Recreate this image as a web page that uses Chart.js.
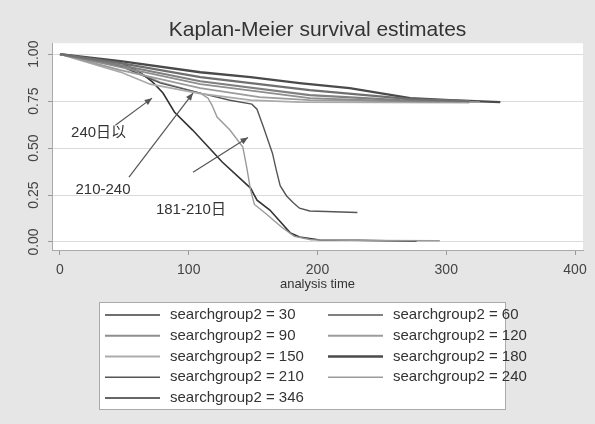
<!DOCTYPE html>
<html>
<head>
<meta charset="utf-8">
<script src="https://cdn.jsdelivr.net/npm/chart.js@4.4.1/dist/chart.umd.min.js"></script>
<style>
  html, body { margin: 0; padding: 0; background: #e6e6e6; }
  #km { display: block; }
</style>
</head>
<body>
<canvas id="km" width="595" height="424"></canvas>
<script>
// ---- values: [analysis time, survival] ----
const groupNames = ['30', '60', '90', '120', '150', '180', '210', '240', '346'];

const group30  = [[0, 1], [47, 0.952], [109, 0.878], [194, 0.809], [272, 0.761], [318, 0.750]];
const group60  = [[0, 1], [47, 0.941], [109, 0.856], [194, 0.782], [264, 0.755], [311, 0.750]];
const group90  = [[0, 1], [47, 0.931], [109, 0.840], [194, 0.766], [250, 0.752], [295, 0.748]];
const group120 = [[0, 1], [47, 0.915], [109, 0.819], [155, 0.771], [194, 0.755], [326, 0.745]];
const group150 = [[0, 1], [47, 0.905], [70, 0.840], [109, 0.790], [148, 0.755], [186, 0.745], [318, 0.742]];
const group180 = [[0, 1], [47, 0.963], [109, 0.904], [148, 0.878], [186, 0.846], [225, 0.819],
                  [272, 0.766], [303, 0.755], [342, 0.745]];
const group210 = [[0, 1], [47, 0.936], [78, 0.846], [109, 0.793], [132, 0.755], [149, 0.734],
                  [153, 0.707], [158, 0.612], [165, 0.473], [168, 0.383], [171, 0.300], [176, 0.245],
                  [181, 0.210], [186, 0.180], [194, 0.165], [231, 0.157]];
const group240 = [[0, 1], [47, 0.941], [78, 0.851], [109, 0.793], [115, 0.766], [118, 0.729],
                  [122, 0.665], [132, 0.596], [142, 0.505], [145, 0.399], [148, 0.277], [151, 0.200],
                  [160, 0.150], [172, 0.080], [182, 0.030], [195, 0.012], [240, 0.008], [295, 0.007]];
const group346 = [[0, 1], [47, 0.957], [62, 0.904], [72, 0.851], [80, 0.793], [89, 0.691],
                  [103, 0.596], [126, 0.426], [148, 0.287], [153, 0.223], [163, 0.170], [179, 0.048],
                  [186, 0.027], [202, 0.011], [231, 0.009], [277, 0.004]];

const xTicks = [0, 100, 200, 300, 400];
const yTicks = [0, 0.25, 0.5, 0.75, 1];

// arrows + labels on the plot (data coordinates)
const notes = [
  { text: '240日以', at: [30, 0.58], from: [43, 0.622], to: [71.5, 0.766] },
  { text: '210-240', at: [33.4, 0.277], from: [53.6, 0.346], to: [103.3, 0.793] },
  { text: '181-210日', at: [101.7, 0.17], from: [103.3, 0.372], to: [146, 0.556] }
];

const FONT = '"Liberation Sans", Arial, "Noto Sans CJK SC", sans-serif';

const series = [group30, group60, group90, group120, group150, group180, group210, group240, group346];
const lineColors = ['#6f6f6f', '#808080', '#8e8e8e', '#9c9c9c', '#ababab', '#4a4a4a', '#555555', '#9a9a9a', '#333333'];
const lineWidths = [2.2, 2.2, 1.8, 1.8, 1.8, 2.4, 1.4, 1.4, 1.6];

const datasets = series.map((pts, i) => ({
    label: 'searchgroup2 = ' + groupNames[i],
    data: pts.map(p => ({ x: p[0], y: p[1] })),
    borderColor: lineColors[i],
    borderWidth: lineWidths[i],
    pointRadius: 0,
    fill: false,
    tension: 0
}));

/* -----------------------------
    plot background (stata gray frame, white plot region)
------------------------------ */
const kmBackground = {
    id: 'kmBackground',
    beforeDraw(chart) {
        const { ctx, chartArea: a } = chart;
        ctx.save();
        ctx.fillStyle = '#e6e6e6';
        ctx.fillRect(0, 0, chart.width, chart.height);
        ctx.fillStyle = '#ffffff';
        ctx.fillRect(a.left, a.top, a.right - a.left, a.bottom - a.top);
        ctx.restore();
    }
};

/* -----------------------------
    arrows with labels
------------------------------ */
const kmArrows = {
    id: 'kmArrows',
    afterDatasetsDraw(chart) {
        const { ctx, scales: { x, y } } = chart;
        ctx.save();
        ctx.strokeStyle = '#555';
        ctx.fillStyle = '#555';
        ctx.lineWidth = 1.2;
        notes.forEach(n => {
            const x0 = x.getPixelForValue(n.from[0]), y0 = y.getPixelForValue(n.from[1]);
            const x1 = x.getPixelForValue(n.to[0]), y1 = y.getPixelForValue(n.to[1]);
            ctx.beginPath();
            ctx.moveTo(x0, y0);
            ctx.lineTo(x1, y1);
            ctx.stroke();
            const ang = Math.atan2(y1 - y0, x1 - x0);
            ctx.beginPath();
            ctx.moveTo(x1, y1);
            ctx.lineTo(x1 - 8 * Math.cos(ang - 0.4), y1 - 8 * Math.sin(ang - 0.4));
            ctx.lineTo(x1 - 8 * Math.cos(ang + 0.4), y1 - 8 * Math.sin(ang + 0.4));
            ctx.closePath();
            ctx.fill();
        });
        ctx.fillStyle = '#333';
        ctx.font = '15px ' + FONT;
        ctx.textAlign = 'center';
        ctx.textBaseline = 'middle';
        notes.forEach(n => {
            ctx.fillText(n.text, x.getPixelForValue(n.at[0]), y.getPixelForValue(n.at[1]));
        });
        ctx.restore();
    }
};

/* -----------------------------
    boxed two-column legend
------------------------------ */
const kmLegend = {
    id: 'kmLegend',
    afterDraw(chart) {
        const { ctx } = chart;
        const box = { left: 99, top: 302, right: 506, bottom: 410 };
        ctx.save();
        ctx.fillStyle = '#ffffff';
        ctx.fillRect(box.left, box.top, box.right - box.left, box.bottom - box.top);
        ctx.strokeStyle = '#aaaaaa';
        ctx.lineWidth = 1;
        ctx.strokeRect(box.left + 0.5, box.top + 0.5, box.right - box.left - 1, box.bottom - box.top - 1);

        ctx.font = '15px ' + FONT;
        ctx.fillStyle = '#333';
        ctx.textAlign = 'left';
        ctx.textBaseline = 'middle';
        chart.data.datasets.forEach((ds, i) => {
            const col = i % 2, row = Math.floor(i / 2);
            const ly = 315 + row * 20.75;
            const lx = col === 0 ? 105 : 328;
            ctx.strokeStyle = ds.borderColor;
            ctx.lineWidth = ds.borderWidth;
            ctx.beginPath();
            ctx.moveTo(lx, ly);
            ctx.lineTo(lx + 55, ly);
            ctx.stroke();
            ctx.fillText(ds.label, lx + 65, ly);
        });
        ctx.restore();
    }
};

new Chart(document.getElementById('km'), {
    type: 'line',
    data: { datasets: datasets },
    options: {
        responsive: false,
        animation: false,
        layout: { padding: { left: 0, right: 12, top: 0, bottom: 131 } },
        plugins: {
            legend: { display: false },
            tooltip: { enabled: false },
            title: {
                display: true,
                text: 'Kaplan-Meier survival estimates',
                fullSize: false,
                color: '#333',
                font: { family: FONT, size: 21, weight: 'normal' },
                padding: { top: 18, bottom: 0 }
            }
        },
        scales: {
            x: {
                type: 'linear',
                min: -6.2,
                max: 406.2,
                afterBuildTicks: s => { s.ticks = xTicks.map(v => ({ value: v })); },
                afterFit: s => { s.height = 43; },
                grid: { drawOnChartArea: false, drawTicks: true, tickLength: 5, tickColor: '#999' },
                border: { color: '#aaa' },
                ticks: { color: '#444', font: { family: FONT, size: 14 }, padding: 7, maxRotation: 0 },
                title: {
                    display: true,
                    text: 'analysis time',
                    color: '#333',
                    font: { family: FONT, size: 13 },
                    padding: { top: 1, bottom: 1 }
                }
            },
            y: {
                type: 'linear',
                min: -0.0426,
                max: 1.0585,
                afterBuildTicks: s => { s.ticks = yTicks.map(v => ({ value: v })); },
                afterFit: s => { s.width = 52; },
                grid: { color: '#dadada', tickColor: '#999', tickLength: 4 },
                border: { color: '#aaa' },
                ticks: {
                    color: '#444',
                    font: { family: FONT, size: 14 },
                    padding: 0,
                    minRotation: 90,
                    maxRotation: 90,
                    crossAlign: 'center',
                    callback: v => v.toFixed(2)
                }
            }
        }
    },
    plugins: [kmBackground, kmArrows, kmLegend]
});
</script>
</body>
</html>
